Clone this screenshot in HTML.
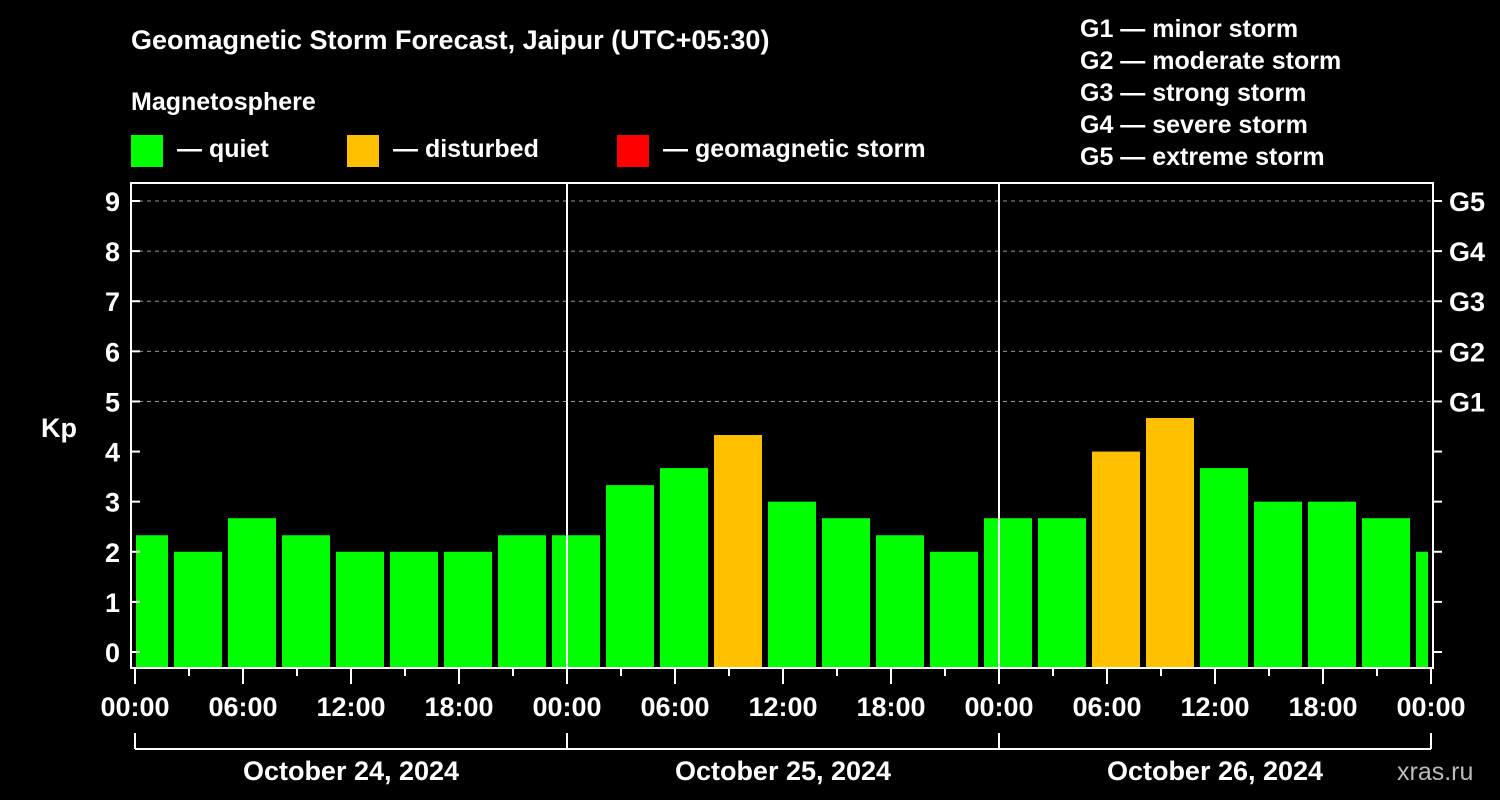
<!DOCTYPE html>
<html><head><meta charset="utf-8"><style>
html,body{margin:0;padding:0;background:#000;width:1500px;height:800px;overflow:hidden}
svg text{font-family:"Liberation Sans",sans-serif;font-weight:bold;fill:#fff}
</style></head><body>
<svg id="c" width="1500" height="800" xmlns="http://www.w3.org/2000/svg">
<text x="131" y="49" font-size="27">Geomagnetic Storm Forecast, Jaipur (UTC+05:30)</text>
<text x="131" y="110" font-size="25">Magnetosphere</text>
<g><rect x="131" y="135" width="32" height="32" fill="#00ff00"/><text x="177" y="157" font-size="25">— quiet</text></g>
<g><rect x="347" y="135" width="32" height="32" fill="#ffc000"/><text x="393" y="157" font-size="25">— disturbed</text></g>
<g><rect x="617" y="135" width="32" height="32" fill="#ff0000"/><text x="663" y="157" font-size="25">— geomagnetic storm</text></g>
<g font-size="25">
<text x="1080" y="37">G1 — minor storm</text><text x="1080" y="69">G2 — moderate storm</text><text x="1080" y="101">G3 — strong storm</text><text x="1080" y="133">G4 — severe storm</text><text x="1080" y="165">G5 — extreme storm</text></g>
<text x="41" y="437" font-size="27">Kp</text>
<text x="1397" y="780" font-size="25" fill="#bbb" style="fill:#bbb;font-weight:normal">xras.ru</text>
<g id="plot"></g>
</svg>
<script>
const kpValues=[2.33,2,2.67,2.33,2,2,2,2.33,2.33,3.33,3.67,4.33,3,2.67,2.33,2,2.67,2.67,4,4.67,3.67,3,3,2.67,2];
const yTicks=[0,1,2,3,4,5,6,7,8,9];
const gLabels=["G1","G2","G3","G4","G5"];
const xTickLabels=["00:00","06:00","12:00","18:00","00:00","06:00","12:00","18:00","00:00","06:00","12:00","18:00","00:00"];
const dayLabels=["October 24, 2024","October 25, 2024","October 26, 2024"];
const L=131,R=1433,T=183,B=668,X0=135,PXH=18;
const y=v=>652-v*50.11, x=h=>X0+h*PXH;
const NS="http://www.w3.org/2000/svg",g=document.getElementById('plot');
function mk(t,a,txt){const e=document.createElementNS(NS,t);for(const k in a)e.setAttribute(k,a[k]);if(txt!=null)e.textContent=txt;g.appendChild(e);return e;}
// grid
for(let v=5;v<=9;v++){const e=mk('line',{x1:L,x2:R,y1:y(v),y2:y(v),stroke:'#999','stroke-dasharray':'4,4','stroke-width':1});

}
// bars
kpValues.forEach((v,i)=>{const c=x(0.5+3*i);let x1=Math.max(c-24,136),x2=Math.min(c+24,1428);
const e=mk('rect',{x:x1,y:y(v),width:x2-x1,height:B-y(v),fill:v>=4?'#ffc000':'#00ff00'});

});
// day separators
[1,2].forEach(d=>{const e=mk('line',{x1:x(24*d),x2:x(24*d),y1:T,y2:B,stroke:'#fff','stroke-width':2});

});
// frame
const f=mk('rect',{x:L,y:T,width:R-L,height:B-T,fill:'none',stroke:'#fff','stroke-width':2});


// y ticks
yTicks.forEach(v=>{mk('line',{x1:L,x2:L+9,y1:y(v),y2:y(v),stroke:'#fff','stroke-width':2});
mk('line',{x1:R,x2:R+9,y1:y(v),y2:y(v),stroke:'#fff','stroke-width':2});
const t=mk('text',{x:L-11,y:y(v)+10,'font-size':27,'text-anchor':'end'},String(v));

});
gLabels.forEach((s,i)=>{const t=mk('text',{x:1449,y:y(5+i)+10,'font-size':27},s);

});
// x ticks
for(let h=0;h<=72;h+=3){const major=h%6===0;mk('line',{x1:x(h),x2:x(h),y1:B,y2:B+(major?16:8),stroke:'#fff','stroke-width':2});}
xTickLabels.forEach((s,i)=>{const t=mk('text',{x:x(6*i),y:716,'font-size':27,'text-anchor':'middle'},s);

});
// day bracket
mk('line',{x1:x(0),x2:x(72),y1:749,y2:749,stroke:'#fff','stroke-width':2});
for(let d=0;d<=3;d++)mk('line',{x1:x(24*d),x2:x(24*d),y1:733,y2:749,stroke:'#fff','stroke-width':2});
dayLabels.forEach((s,i)=>{const t=mk('text',{x:x(24*i+12),y:780,'font-size':27,'text-anchor':'middle'},s);

});
</script>
</body></html>
